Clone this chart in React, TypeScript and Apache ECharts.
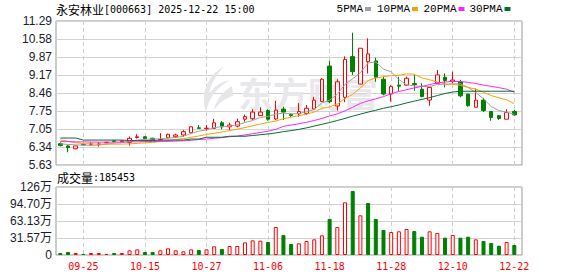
import React, { useEffect, useRef } from "react";
import * as echarts from "echarts";

const dates = [
  "09-22","09-23","09-24","09-25","09-26","09-29","09-30","10-09","10-10","10-13",
  "10-14","10-15","10-16","10-17","10-20","10-21","10-22","10-23","10-24","10-27",
  "10-28","10-29","10-30","10-31","11-03","11-04","11-05","11-06","11-07","11-10",
  "11-11","11-12","11-13","11-14","11-17","11-18","11-19","11-20","11-21","11-24",
  "11-25","11-26","11-27","11-28","12-01","12-02","12-03","12-04","12-05","12-08",
  "12-09","12-10","12-11","12-12","12-15","12-16","12-17","12-18","12-19","12-22",
];

const opens = [
  6.47, 6.38, 6.27, 6.44, 6.44, 6.44, 6.50, 6.58, 6.55, 6.52,
  6.71, 6.74, 6.68, 6.61, 6.70, 6.74, 6.81, 6.90, 7.09, 7.06,
  7.07, 7.29, 7.13, 7.16, 7.43, 7.45, 7.57, 7.77, 7.44, 7.83,
  7.62, 7.64, 7.66, 7.83, 8.12, 9.52, 7.95, 8.29, 9.89, 8.81,
  9.69, 9.72, 9.00, 8.42, 8.77, 8.77, 8.83, 8.61, 8.18, 8.84,
  9.08, 8.92, 8.90, 8.42, 7.90, 8.18, 7.73, 7.57, 7.43, 7.73,
];
const closes = [
  6.40, 6.31, 6.38, 6.42, 6.46, 6.46, 6.52, 6.55, 6.58, 6.68,
  6.74, 6.66, 6.60, 6.63, 6.84, 6.81, 6.94, 7.13, 7.07, 7.08,
  7.29, 7.13, 7.20, 7.33, 7.53, 7.71, 7.71, 7.43, 7.79, 7.71,
  7.58, 7.73, 7.86, 8.18, 9.00, 8.12, 8.90, 9.78, 9.30, 10.22,
  10.00, 9.08, 8.42, 8.71, 8.73, 9.04, 8.79, 8.32, 8.68, 9.17,
  8.95, 8.97, 8.35, 7.96, 8.18, 7.77, 7.50, 7.46, 7.69, 7.60,
];
const lows = [
  6.36, 6.13, 6.25, 6.40, 6.38, 6.35, 6.48, 6.52, 6.53, 6.39,
  6.67, 6.63, 6.58, 6.59, 6.68, 6.70, 6.74, 6.88, 7.05, 6.97,
  7.05, 7.03, 7.00, 7.11, 7.33, 7.40, 7.57, 7.37, 7.40, 7.40,
  7.52, 7.53, 7.60, 7.79, 8.12, 8.06, 7.77, 8.10, 9.17, 8.80,
  9.23, 8.90, 8.37, 8.12, 8.51, 8.75, 8.55, 8.29, 7.96, 8.84,
  8.68, 8.84, 8.29, 7.92, 7.90, 7.71, 7.37, 7.40, 7.43, 7.57,
];
const highs = [
  6.52, 6.40, 6.40, 6.46, 6.53, 6.53, 6.55, 6.60, 6.60, 6.75,
  6.84, 6.76, 6.70, 6.88, 6.86, 6.86, 7.00, 7.15, 7.20, 7.20,
  7.44, 7.36, 7.29, 7.45, 7.61, 7.82, 7.90, 7.82, 8.15, 7.92,
  7.66, 8.06, 7.99, 8.31, 9.04, 9.73, 9.00, 9.90, 10.83, 10.22,
  10.61, 9.85, 9.10, 8.77, 9.10, 9.10, 9.17, 8.84, 8.70, 9.36,
  9.23, 9.30, 8.98, 8.42, 8.64, 8.27, 7.73, 7.60, 7.82, 7.80,
];

// volume in 万 (10k)
const volumes = [
  3.7, 5.6, 3.7, 2.0, 3.7, 3.7, 2.0, 3.7, 3.7, 8.7,
  10.5, 5.6, 5.6, 8.7, 12.4, 8.7, 6.8, 10.5, 9.3, 10.5,
  16.1, 11.1, 16.7, 16.7, 23.5, 27.2, 26.6, 24.1, 52.0, 37.0,
  20.4, 21.7, 26.0, 29.1, 36.5, 66.9, 52.0, 97.8, 118.9, 73.7,
  96.6, 66.9, 46.4, 42.7, 44.0, 48.3, 44.6, 34.0, 44.0, 40.9,
  32.2, 37.1, 32.2, 34.0, 29.1, 26.0, 22.3, 17.3, 24.1, 18.55,
];
// 1 = red (hollow) volume bar, 0 = green (filled)
const volUp = [
  0, 0, 1, 0, 1, 1, 1, 0, 1, 1,
  1, 0, 0, 1, 1, 1, 1, 1, 0, 1,
  1, 0, 1, 1, 1, 1, 1, 0, 1, 0,
  0, 1, 1, 1, 1, 0, 1, 1, 0, 1,
  0, 0, 0, 1, 1, 1, 0, 0, 1, 1,
  0, 1, 0, 0, 1, 0, 0, 0, 1, 0,
];

const ma5 = [
  6.46, 6.44, 6.42, 6.41, 6.40, 6.41, 6.45, 6.49, 6.51, 6.56,
  6.61, 6.64, 6.65, 6.66, 6.69, 6.71, 6.76, 6.87, 6.96, 7.01,
  7.10, 7.14, 7.15, 7.21, 7.30, 7.38, 7.50, 7.54, 7.63, 7.67,
  7.64, 7.65, 7.73, 7.81, 8.07, 8.18, 8.41, 8.80, 9.02, 9.26,
  9.64, 9.68, 9.40, 9.29, 8.99, 8.78, 8.74, 8.72, 8.71, 8.80,
  8.78, 8.82, 8.82, 8.68, 8.48, 8.23, 7.93, 7.77, 7.71, 7.62,
];
const ma10 = [
  6.62, 6.56, 6.51, 6.47, 6.46, 6.45, 6.45, 6.45, 6.45, 6.46,
  6.48, 6.50, 6.52, 6.55, 6.59, 6.63, 6.67, 6.72, 6.77, 6.83,
  6.88, 6.93, 6.98, 7.04, 7.10, 7.17, 7.24, 7.30, 7.36, 7.45,
  7.51, 7.57, 7.63, 7.71, 7.86, 7.91, 8.03, 8.24, 8.41, 8.66,
  8.95, 9.05, 9.10, 9.14, 9.16, 9.21, 9.20, 9.05, 8.98, 8.89,
  8.82, 8.80, 8.76, 8.68, 8.61, 8.49, 8.36, 8.27, 8.19, 8.04,
];
const ma20 = [
  6.55, 6.55, 6.54, 6.54, 6.53, 6.53, 6.53, 6.53, 6.53, 6.54,
  6.54, 6.55, 6.55, 6.56, 6.56, 6.57, 6.58, 6.60, 6.63, 6.65,
  6.68, 6.71, 6.74, 6.77, 6.81, 6.86, 6.91, 6.96, 7.03, 7.15,
  7.20, 7.25, 7.31, 7.38, 7.46, 7.56, 7.64, 7.76, 7.90, 8.05,
  8.15, 8.23, 8.32, 8.43, 8.52, 8.59, 8.66, 8.72, 8.79, 8.86,
  8.89, 8.92, 8.91, 8.88, 8.83, 8.77, 8.72, 8.67, 8.61, 8.49,
];
const ma30 = [
  6.69, 6.69, 6.69, 6.61, 6.61, 6.61, 6.61, 6.61, 6.61, 6.59,
  6.59, 6.59, 6.59, 6.61, 6.61, 6.61, 6.61, 6.65, 6.65, 6.72,
  6.72, 6.72, 6.76, 6.76, 6.76, 6.79, 6.82, 6.85, 6.89, 6.94,
  6.98, 7.03, 7.09, 7.16, 7.23, 7.30, 7.38, 7.46, 7.55, 7.63,
  7.71, 7.78, 7.86, 7.92, 7.99, 8.07, 8.14, 8.21, 8.28, 8.36,
  8.44, 8.50, 8.53, 8.53, 8.53, 8.53, 8.53, 8.53, 8.53, 8.53,
];

const priceLabels = ["5.63", "6.34", "7.05", "7.75", "8.46", "9.17", "9.87", "10.58", "11.29"];
const volLabels = ["0", "31.57万", "63.13万", "94.70万", "126万"];
const priceMin = 5.63;
const priceMax = 11.29;
const volMax = 126.27;
const lastVolume = "185453";
const titleName = "永安林业";
const titleInfo = "[000663] 2025-12-22 15:00";
const maNames = ["5PMA", "10PMA", "20PMA", "30PMA"];
const maColors = ["#a0a0a0", "#f5a300", "#ff22ff", "#006f32"];
const watermarkText = "东方财富";

const logoPath =
  "M26 0 C10 10 2 26 8 46 C11 32 18 22 32 14 C22 16 15 21 11 28 C13 17 19 8 26 0 Z " +
  "M34 20 C24 26 18 34 16 44 C22 36 28 32 35 30 Z";

echarts.graphic.registerShape("wmlogo", echarts.graphic.extendPath(logoPath, {}) as any);

const labelEvery = (i: number) => i % 8 === 3;

export default function App() {
  const ref = useRef<HTMLDivElement>(null);
  useEffect(() => {
    const chart = echarts.init(ref.current!, null, { renderer: "svg" });
    const kData = dates.map((_, i) => [opens[i], closes[i], lows[i], highs[i]]);
    const volData = volumes.map((v, i) => ({
      value: v,
      itemStyle: volUp[i]
        ? { color: "#ffffff", borderColor: "#ff0000", borderWidth: 1 }
        : { color: "#008000", borderColor: "#008000", borderWidth: 1 },
    }));
    const mas = [ma5, ma10, ma20, ma30];
    const vSplit = {
      show: true,
      interval: labelEvery,
      lineStyle: { color: "#cfcfcf", type: [4, 3] as any, width: 1 },
    };
    const legendEnds = [363, 410, 456.5, 502.5];
    const legendGraphics: any[] = [];
    maNames.forEach((n, i) => {
      legendGraphics.push({
        type: "text",
        x: legendEnds[i],
        y: 9,
        style: {
          text: n,
          font: "11px 'Liberation Mono'",
          fill: "#000",
          align: "right",
          verticalAlign: "middle",
        },
      });
      legendGraphics.push({
        type: "rect",
        shape: { x: legendEnds[i] + 2, y: 7, width: 6, height: 4 },
        style: { fill: maColors[i] },
      });
    });

    chart.setOption({
      animation: false,
      backgroundColor: "#ffffff",
      grid: [
        { left: 60.3, width: 454, top: 21, height: 144 },
        { left: 60.3, width: 454, top: 187, height: 68 },
        { left: 56, width: 466, top: 21, height: 144, show: true, borderColor: "#999", borderWidth: 1, backgroundColor: "transparent" },
        { left: 56, width: 466, top: 187, height: 68, show: true, borderColor: "#999", borderWidth: 1, backgroundColor: "transparent" },
      ],
      xAxis: [
        {
          type: "category", gridIndex: 0, data: dates, boundaryGap: false,
          axisLine: { show: false }, axisTick: { show: false }, axisLabel: { show: false },
          splitLine: vSplit,
        },
        {
          type: "category", gridIndex: 1, data: dates, boundaryGap: false,
          axisLine: { show: false }, axisTick: { show: false },
          axisLabel: {
            show: true, interval: labelEvery, color: "#ff0000", fontSize: 10,
            fontFamily: "'DejaVu Sans Mono'", margin: 6,
          },
          splitLine: vSplit,
        },
        { type: "value", gridIndex: 2, show: false, min: 0, max: 1 },
        { type: "value", gridIndex: 3, show: false, min: 0, max: 1 },
      ],
      yAxis: [
        { type: "value", gridIndex: 0, min: priceMin, max: priceMax, show: false },
        { type: "value", gridIndex: 1, min: 0, max: volMax, show: false },
        {
          type: "value", gridIndex: 2, min: 0, max: 8, interval: 1,
          axisLine: { show: false }, axisTick: { show: false },
          axisLabel: {
            formatter: (v: number) => priceLabels[Math.round(v)],
            color: "#1c1c2c", fontSize: 12, fontFamily: "'Liberation Sans'", margin: 4,
          },
          splitLine: { show: true, lineStyle: { color: "#d2d2d2", width: 1 } },
        },
        {
          type: "value", gridIndex: 3, min: 0, max: 4, interval: 1,
          axisLine: { show: false }, axisTick: { show: false },
          axisLabel: {
            formatter: (v: number) => volLabels[Math.round(v)],
            color: "#1c1c2c", fontSize: 12, fontFamily: "'Liberation Sans', 'Noto Sans CJK SC'", margin: 4,
          },
          splitLine: { show: true, lineStyle: { color: "#d2d2d2", width: 1 } },
        },
      ],
      series: [
        {
          type: "candlestick",
          xAxisIndex: 0, yAxisIndex: 0,
          data: kData,
          barWidth: 4,
          z: 2,
          itemStyle: {
            color: "#ffffff", color0: "#008000",
            borderColor: "#ff0000", borderColor0: "#008000", borderWidth: 1,
          },
        },
        ...mas.map((m, i) => ({
          type: "line",
          xAxisIndex: 0, yAxisIndex: 0,
          data: m,
          symbol: "none",
          showSymbol: false,
          z: 3,
          lineStyle: { color: maColors[i], width: 1 },
        })),
        {
          type: "bar",
          xAxisIndex: 1, yAxisIndex: 1,
          data: volData,
          barWidth: 4,
        },
      ],
      graphic: [
        {
          type: "wmlogo",
          x: 198, y: 66, z: 1,
          style: { fill: "#e6e6ea" },
        },
        {
          type: "text",
          x: 238, y: 92, z: 1,
          style: {
            text: watermarkText,
            font: "bold 35px 'Noto Sans CJK SC'",
            fill: "#e8e8ec",
            verticalAlign: "middle",
          },
        },
        {
          type: "text",
          x: 56, y: 9,
          style: {
            text: `{a|${titleName}}{b|${titleInfo}}`,
            verticalAlign: "middle",
            rich: {
              a: { font: "12px 'Noto Sans CJK SC'", fill: "#000" },
              b: { font: "10px 'DejaVu Sans Mono'", fill: "#000" },
            },
          },
        },
        {
          type: "text",
          x: 57, y: 177,
          style: {
            text: `{a|成交量}{b|:${lastVolume}}`,
            verticalAlign: "middle",
            rich: {
              a: { font: "12px 'Noto Sans CJK SC'", fill: "#000" },
              b: { font: "10px 'DejaVu Sans Mono'", fill: "#000" },
            },
          },
        },
        ...legendGraphics,
      ],
    });
    return () => chart.dispose();
  }, []);
  return (
    <div
      ref={ref}
      style={{ position: "absolute", left: 0, top: 0, width: 578, height: 276 }}
    />
  );
}
